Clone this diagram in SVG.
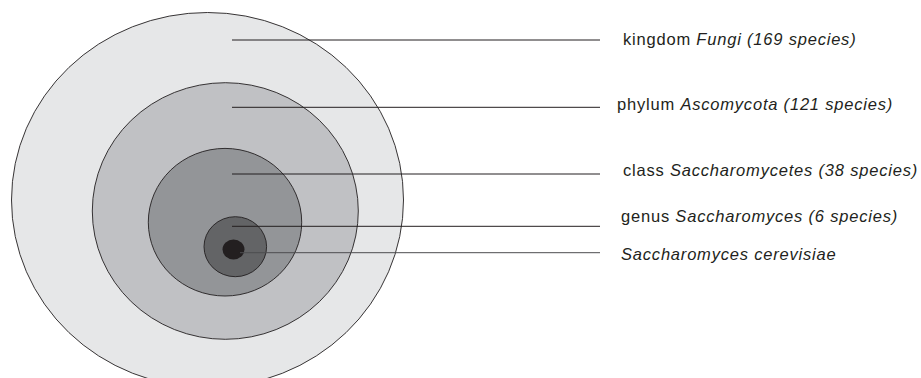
<svg xmlns="http://www.w3.org/2000/svg" width="921" height="378" viewBox="0 0 921 378">
<style>
.e{stroke:#231f20;stroke-width:0.9}
.c line{stroke:#231f20;stroke-width:1}
text{font-family:"Liberation Sans",Arial,sans-serif;font-size:16.5px;fill:#231f20;letter-spacing:0.8px}
.i{font-style:italic}
</style>
<rect width="921" height="378" fill="#ffffff"/>
<g id="kingdom"><ellipse class="e" cx="207.5" cy="200" rx="196" ry="187.5" fill="#e6e7e8"/></g>
<g id="phylum"><ellipse class="e" cx="225.3" cy="211" rx="133" ry="128.3" fill="#c0c1c4"/></g>
<g id="class"><ellipse class="e" cx="225" cy="222.2" rx="76.7" ry="73.8" fill="#939598"/></g>
<g id="genus"><ellipse class="e" cx="235.3" cy="246.7" rx="31.3" ry="30" fill="#636466"/></g>
<g id="species"><ellipse cx="233.5" cy="249.5" rx="11" ry="10" fill="#231f20"/></g>
<g class="c" id="connectors">
<line x1="232" y1="40" x2="600" y2="40"/>
<line x1="232" y1="107.3" x2="600" y2="107.3"/>
<line x1="232" y1="174" x2="600" y2="174"/>
<line x1="232" y1="226.3" x2="600" y2="226.3"/>
<line x1="240" y1="252.7" x2="600" y2="252.7" style="stroke:#4d4d4f"/>
</g>
<g id="labels">
<text x="623" y="44.5">kingdom <tspan class="i">Fungi (169 species)</tspan></text>
<text x="617" y="109.5">phylum <tspan class="i">Ascomycota (121 species)</tspan></text>
<text x="623" y="175.5">class <tspan class="i">Saccharomycetes (38 species)</tspan></text>
<text x="621" y="222">genus <tspan class="i">Saccharomyces (6 species)</tspan></text>
<text x="621" y="259.5" class="i">Saccharomyces cerevisiae</text>
</g>
</svg>
